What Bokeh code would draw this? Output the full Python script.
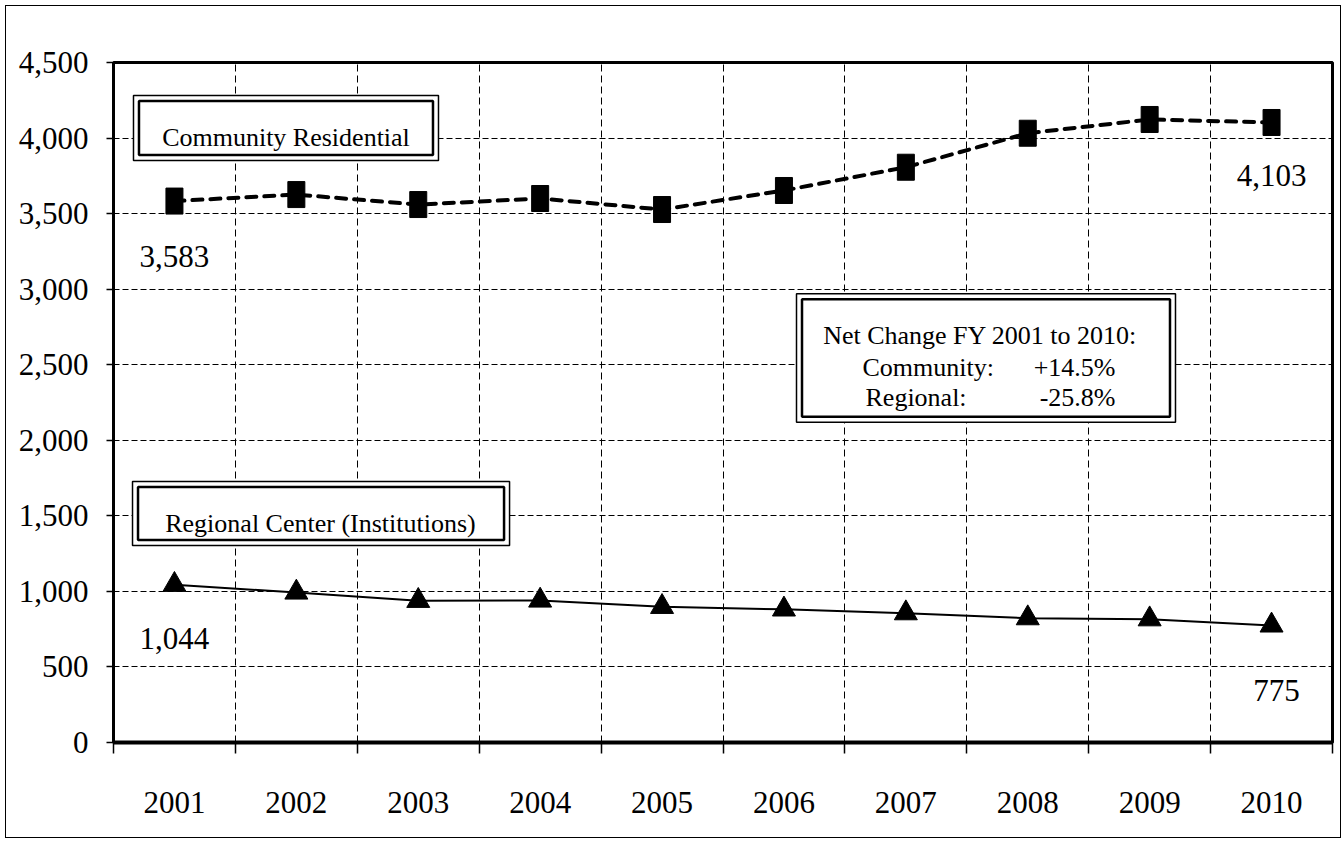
from bokeh.plotting import figure
from bokeh.models import FixedTicker, NumeralTickFormatter, BoxAnnotation, Label, Range1d, InlineStyleSheet
from bokeh.embed import file_html
from bokeh.resources import INLINE

# ---- data ----
years = ["2001", "2002", "2003", "2004", "2005", "2006", "2007", "2008", "2009", "2010"]
community = [3583, 3626, 3560, 3600, 3527, 3653, 3807, 4032, 4123, 4103]
regional = [1044, 993, 938, 940, 898, 881, 856, 823, 816, 775]
y_ticks = [0, 500, 1000, 1500, 2000, 2500, 3000, 3500, 4000, 4500]

FONT = "Liberation Serif"
xc = [i + 0.5 for i in range(len(years))]

p = figure(width=1342, height=840, output_backend="svg", toolbar_location=None,
           x_range=Range1d(0, len(years)), y_range=Range1d(0, 4500),
           min_border_left=113, min_border_right=10, min_border_top=62, min_border_bottom=98,
           background_fill_color="white", border_fill_color="white")
p.outline_line_color = "black"
p.outline_line_width = 3
p.outline_line_alpha = 1

# outer page border (drawn as an overlay frame on the figure element)
p.stylesheets = [InlineStyleSheet(css=""":host { position: relative; }
:host::after { content: ""; position: absolute; left: 5px; top: 5px; width: 1336px; height: 833px;
  border: 1.5px solid black; box-sizing: border-box; pointer-events: none; z-index: 1000; }""")]

# x axis: labels at category centres, ticks/grid at boundaries
xt = FixedTicker(ticks=xc, minor_ticks=list(range(len(years) + 1)))
p.xaxis.ticker = xt
p.xaxis.major_label_overrides = {x: y for x, y in zip(xc, years)}
p.xaxis.major_tick_out = 0
p.xaxis.major_tick_in = 0
p.xaxis.minor_tick_out = 11
p.xaxis.minor_tick_in = 0
p.xaxis.minor_tick_line_width = 1.5
p.xaxis.minor_tick_line_color = "black"
p.xaxis.axis_line_width = 4
p.xaxis.axis_line_color = "black"
p.xaxis.major_label_standoff = 38
p.xaxis.major_label_text_font = FONT
p.xaxis.major_label_text_font_size = "31px"
p.xaxis.major_label_text_color = "black"

p.xgrid.ticker = xt
p.xgrid.grid_line_color = None
p.xgrid.minor_grid_line_color = "black"
p.xgrid.minor_grid_line_dash = "7 4"
p.xgrid.minor_grid_line_width = 1

yt = FixedTicker(ticks=y_ticks, minor_ticks=[])
p.yaxis.ticker = yt
p.yaxis.formatter = NumeralTickFormatter(format="0,0")
p.yaxis.major_tick_out = 7
p.yaxis.major_tick_in = 0
p.yaxis.minor_tick_out = 0
p.yaxis.minor_tick_in = 0
p.yaxis.major_tick_line_width = 1.5
p.yaxis.major_tick_line_color = "black"
p.yaxis.axis_line_width = 3
p.yaxis.axis_line_color = "black"
p.yaxis.major_label_standoff = 18
p.yaxis.major_label_text_font = FONT
p.yaxis.major_label_text_font_size = "31px"
p.yaxis.major_label_text_color = "black"

p.ygrid.ticker = yt
p.ygrid.grid_line_color = "black"
p.ygrid.grid_line_alpha = 1
p.ygrid.grid_line_dash = "6 3"
p.ygrid.grid_line_width = 1

# ---- series ----
p.line(xc, community, line_color="black", line_width=4, line_dash="10 8", line_cap="round")
p.rect(xc, community, width=17, height=26, width_units="screen", height_units="screen",
       fill_color="black", line_color="black")

p.line(xc, regional, line_color="black", line_width=2)
p.scatter(xc, regional, marker="triangle", size=23, fill_color="black", line_color="black")

# ---- value labels ----
def vlabel(x, y, txt, dy):
    p.add_layout(Label(x=x, y=y, text=txt, y_offset=dy, text_align="center",
                       text_baseline="middle", text_font=FONT, text_font_size="31px",
                       text_color="black"))

vlabel(xc[0], community[0], f"{community[0]:,}", -55)
vlabel(xc[-1], community[-1], f"{community[-1]:,}", -53)
vlabel(xc[0], regional[0], f"{regional[0]:,}", -54)
vlabel(xc[-1] + 0.04, regional[-1], f"{regional[-1]:,}", -65)

# ---- framed text boxes ----
DX = 5.5 / 121.9
DY = 5.5 / (680 / 4500)

def dbox(l, r, t, b):
    p.add_layout(BoxAnnotation(left=l, right=r, top=t, bottom=b, fill_color="white", fill_alpha=1,
                               line_color="black", line_width=1.5, line_alpha=1))
    p.add_layout(BoxAnnotation(left=l + DX, right=r - DX, top=t - DY, bottom=b + DY,
                               fill_alpha=0, line_color="black", line_width=2.5, line_alpha=1))

def blabel(x, y, txt, align="center"):
    p.add_layout(Label(x=x, y=y, text=txt, text_align=align, text_baseline="alphabetic",
                       text_font=FONT, text_font_size="26px", text_color="black"))

dbox(0.164, 2.666, 4282, 3851)
blabel(1.415, 4004, "Community Residential")

dbox(0.156, 3.249, 1727, 1304)
blabel(1.698, 1447, "Regional Center (Institutions)")

dbox(5.603, 8.712, 2969, 2120)
blabel(7.11, 2693, "Net Change FY 2001 to 2010:")
blabel(6.144, 2484, "Community:", "left")
blabel(8.22, 2484, "+14.5%", "right")
blabel(6.169, 2285, "Regional:", "left")
blabel(8.22, 2285, "-25.8%", "right")

open("out.html", "w").write(file_html(p, INLINE))
